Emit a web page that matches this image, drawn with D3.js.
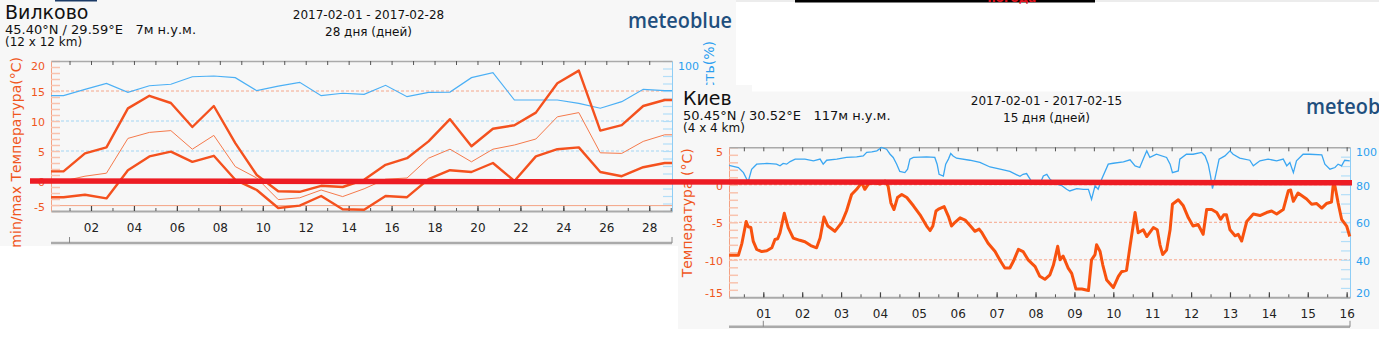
<!DOCTYPE html>
<html>
<head>
<meta charset="utf-8">
<script src="https://cdn.jsdelivr.net/npm/d3@7"></script>
<style>
body { margin: 0; background: #fff; }
svg { display: block; font-family: "DejaVu Sans", sans-serif; }
</style>
</head>
<body>
<script>
// ---- Вилково, daily values (01.02 .. 01.03) ----
var vilkDays = [1,2,3,4,5,6,7,8,9,10,11,12,13,14,15,16,17,18,19,20,21,22,23,24,25,26,27,28,29];
var vilkMax  = [1.6,4.6,5.6,12.1,14.2,13.0,9.0,12.5,6.3,1.0,-1.7,-1.8,-0.8,-1.0,0.2,2.7,3.8,6.6,10.3,5.8,8.7,9.3,11.4,16.3,18.4,8.4,9.3,12.5,13.5];
var vilkMean = [0.0,0.8,1.3,7.1,8.1,8.4,5.3,7.6,2.4,0.5,-3.1,-2.8,-1.5,-2.6,-1.3,0.3,0.5,3.8,5.3,3.2,5.3,6.0,7.0,10.7,11.4,4.7,4.6,6.6,7.7];
var vilkMin  = [-2.7,-2.3,-2.9,1.8,4.1,4.9,3.2,4.2,0.2,-1.5,-4.5,-4.1,-2.5,-4.7,-4.8,-2.5,-2.7,0.3,1.8,1.5,3.0,0.0,4.1,5.3,5.6,1.5,0.8,2.3,3.0];
var vilkHum  = [76.9,81.1,85.1,79.1,83.5,84.5,89.5,90.0,88.9,80.2,83.3,85.8,76.9,78.5,77.8,83.8,76.2,79.1,79.3,88.9,92.2,74.0,74.0,74.0,71.8,68.5,72.9,81.1,80.2];
var vilkTicks = [-5,0,5,10,15,20];
var vilkHumTicks = [100];          // the rest of that axis lies under the Kiev chart
var vilkLabelDays = [2,4,6,8,10,12,14,16,18,20,22,24,26,28];

// ---- Киев, [day, value] ----
var kievTemp = [[0.12,-9.4],[0.36,-9.4],[0.45,-7.8],[0.56,-4.9],[0.61,-5.6],[0.68,-5.7],[0.74,-7.5],[0.83,-8.6],[0.96,-8.9],[1.09,-8.8],[1.22,-8.4],[1.30,-7.3],[1.37,-7.2],[1.43,-6.4],[1.54,-3.8],[1.64,-5.7],[1.77,-7.1],[1.94,-7.4],[2.07,-7.6],[2.22,-8.1],[2.37,-8.4],[2.46,-7.1],[2.56,-4.3],[2.66,-5.5],[2.84,-6.2],[3.02,-5.0],[3.14,-3.5],[3.27,-1.3],[3.40,-0.6],[3.53,0.3],[3.61,-0.6],[3.70,0.1],[3.83,0.3],[4.00,0.1],[4.13,0.5],[4.21,-0.2],[4.28,-2.4],[4.36,-3.3],[4.45,-1.7],[4.56,-1.3],[4.69,-1.7],[4.86,-2.8],[5.03,-4.0],[5.20,-5.5],[5.29,-6.1],[5.36,-5.5],[5.44,-3.5],[5.52,-3.2],[5.65,-2.9],[5.76,-4.2],[5.84,-5.5],[5.93,-5.0],[6.06,-4.4],[6.19,-4.7],[6.36,-5.7],[6.44,-6.2],[6.55,-5.9],[6.61,-6.3],[6.78,-7.8],[6.96,-8.9],[7.09,-10.1],[7.21,-11.1],[7.34,-11.1],[7.43,-10.2],[7.56,-8.6],[7.68,-8.9],[7.81,-10.0],[7.99,-10.9],[8.11,-12.2],[8.24,-12.6],[8.37,-12.0],[8.46,-10.7],[8.57,-8.2],[8.63,-10.0],[8.71,-9.5],[8.84,-11.1],[8.93,-11.8],[9.04,-13.9],[9.19,-13.9],[9.36,-14.1],[9.44,-10.0],[9.53,-9.3],[9.57,-8.0],[9.66,-8.9],[9.73,-10.7],[9.83,-12.7],[10.00,-13.7],[10.13,-12.2],[10.21,-11.6],[10.34,-11.4],[10.43,-8.2],[10.56,-3.7],[10.64,-6.4],[10.77,-6.0],[10.86,-6.9],[11.03,-5.7],[11.13,-6.0],[11.20,-8.0],[11.27,-9.3],[11.37,-8.7],[11.46,-6.0],[11.52,-2.6],[11.67,-2.0],[11.80,-2.8],[11.93,-4.4],[12.05,-5.5],[12.18,-5.3],[12.31,-6.6],[12.40,-3.3],[12.53,-3.3],[12.66,-3.7],[12.76,-4.6],[12.84,-4.0],[12.91,-4.0],[13.00,-6.0],[13.13,-6.8],[13.21,-6.6],[13.30,-7.5],[13.43,-4.9],[13.60,-3.9],[13.77,-4.1],[13.94,-3.7],[14.07,-3.5],[14.20,-3.9],[14.37,-3.3],[14.50,-0.8],[14.56,-0.7],[14.63,-2.2],[14.75,-1.1],[14.97,-1.9],[15.10,-2.6],[15.23,-2.5],[15.36,-3.1],[15.48,-2.5],[15.61,-2.3],[15.65,-0.2],[15.70,-0.2],[15.78,-2.4],[15.87,-4.6],[16.00,-5.5],[16.08,-6.9]];
var kievHum = [[0.12,90.4],[0.36,89.2],[0.49,86.5],[0.61,81.5],[0.70,88.3],[0.83,91.0],[1.09,91.4],[1.34,91.0],[1.43,90.1],[1.51,91.4],[1.60,91.0],[1.69,92.4],[1.82,93.7],[2.07,93.7],[2.29,92.8],[2.46,93.7],[2.54,91.0],[2.63,93.1],[2.89,93.7],[3.14,94.6],[3.40,94.9],[3.57,95.4],[3.66,97.3],[3.79,97.6],[3.92,98.1],[4.04,99.9],[4.17,99.0],[4.26,96.3],[4.34,94.6],[4.43,91.0],[4.51,87.1],[4.64,86.5],[4.71,88.3],[4.77,93.7],[4.86,94.6],[5.20,94.9],[5.41,94.6],[5.47,91.0],[5.52,85.6],[5.63,84.7],[5.69,91.0],[5.76,93.7],[5.82,96.7],[5.88,95.4],[5.97,94.2],[6.31,93.1],[6.57,91.9],[6.83,89.5],[7.09,88.3],[7.34,87.1],[7.60,84.5],[7.68,85.6],[7.77,86.0],[7.86,83.0],[7.93,80.5],[8.11,80.3],[8.20,84.7],[8.29,85.6],[8.37,83.0],[8.52,80.5],[8.68,79.5],[8.80,77.6],[8.88,76.7],[9.06,78.0],[9.23,77.6],[9.36,77.6],[9.44,72.2],[9.53,79.4],[9.61,77.6],[9.70,83.0],[9.87,91.0],[10.00,91.5],[10.26,92.2],[10.43,93.3],[10.56,90.1],[10.68,89.2],[10.77,93.7],[10.86,98.1],[10.94,94.6],[11.11,96.3],[11.37,94.6],[11.46,91.0],[11.52,86.5],[11.67,87.4],[11.71,93.7],[11.88,96.3],[12.05,96.3],[12.27,97.3],[12.36,95.4],[12.44,91.0],[12.50,84.7],[12.55,78.0],[12.61,83.0],[12.72,93.7],[12.87,95.4],[13.00,98.1],[13.08,96.3],[13.25,94.2],[13.51,93.1],[13.60,90.1],[13.77,92.8],[13.98,93.7],[14.20,92.8],[14.37,93.7],[14.46,90.1],[14.54,91.9],[14.63,86.5],[14.71,92.8],[14.88,96.3],[15.05,96.3],[15.36,96.0],[15.44,91.0],[15.57,88.3],[15.70,89.2],[15.78,91.0],[15.87,90.1],[15.95,93.1],[16.08,92.8]];
var kievTicks = [-15,-10,-5,0,5];
var kievHumTicks = [20,40,60,80,100];
var kievLabelDays = [1,2,3,4,5,6,7,8,9,10,11,12,13,14,15,16];

var W = 1379, H = 360;
var svg = d3.select("body").append("svg").attr("width", W).attr("height", H);
svg.append("rect").attr("width", W).attr("height", H).attr("fill", "#fff");

var tempColor = "#f4511e", humColor = "#3ba7f2";

function pad2(d) { return (d < 10 ? "0" : "") + d; }

// one meteoblue chart, laid out in the coordinates of the first one
function drawPanel(p) {
    var g = svg.append("g").attr("transform", "translate(" + p.dx + "," + p.dy + ")");
    g.append("rect").attr("x", p.bg[0]).attr("y", p.bg[1])
        .attr("width", p.bg[2]).attr("height", p.bg[3]).attr("fill", "#f7f7f7");
    if (p.whiteTop) {
        g.append("rect").attr("x", p.whiteTop[0]).attr("y", p.whiteTop[1])
            .attr("width", p.whiteTop[2]).attr("height", p.whiteTop[3]).attr("fill", "#fff");
    }

    var left = 51, right = 672, top = 61, bottom = 211;
    var x = d3.scaleLinear().domain(p.xDomain).range([left, right]);
    var yT = d3.scaleLinear().domain(p.tDomain).range([bottom, top]);
    var yH = d3.scaleLinear().domain(p.hDomain).range([bottom, top]);

    // header
    g.append("text").attr("x", 5).attr("y", 19).attr("fill", "#111")
        .style("font-size", "19px").text(p.place);
    g.append("text").attr("x", 5).attr("y", 34).attr("fill", "#111")
        .style("font-size", "13px").style("white-space", "pre").text(p.coords);
    g.append("text").attr("x", 5).attr("y", 46).attr("fill", "#111")
        .style("font-size", "12px").text(p.cell);
    g.append("text").attr("x", 368.5).attr("y", 19).attr("text-anchor", "middle").attr("fill", "#111")
        .style("font-size", "12px").text(p.period);
    g.append("text").attr("x", 368.5).attr("y", 35.5).attr("text-anchor", "middle").attr("fill", "#111")
        .style("font-size", "12px").text(p.span);
    g.append("text").attr("x", 628).attr("y", 27.5).attr("fill", "#1f4f7e")
        .attr("textLength", 104).attr("lengthAdjust", "spacingAndGlyphs")
        .style("font-family", "'Open Sans', sans-serif").style("font-weight", 600)
        .style("font-size", "21px").text("meteoblue");

    // grid
    p.gridT.forEach(function (v) {
        g.append("line").attr("x1", left).attr("x2", right).attr("y1", yT(v)).attr("y2", yT(v))
            .attr("stroke", "#f5a68a").attr("stroke-dasharray", "3,2");
    });
    p.gridH.forEach(function (v) {
        g.append("line").attr("x1", left).attr("x2", right).attr("y1", yH(v)).attr("y2", yH(v))
            .attr("stroke", "#a3d5f3").attr("stroke-dasharray", "3,2");
    });
    p.solidT.forEach(function (v) {
        g.append("line").attr("x1", left).attr("x2", right).attr("y1", yT(v)).attr("y2", yT(v))
            .attr("stroke", "#f3a384");
    });

    // temperature axis (ticks inside)
    g.append("g").attr("transform", "translate(" + left + ",0)")
        .call(d3.axisRight(yT).tickValues(d3.range(p.tDomain[0], p.tDomain[1] + 0.01, 1))
            .tickSize(9).tickSizeOuter(0).tickFormat(""))
        .call(function (a) {
            a.select(".domain").attr("stroke", "#f4a183");
            a.selectAll(".tick line").attr("stroke", "#f8c3ae").attr("stroke-width", 1.5);
        });
    g.selectAll(".tlab").data(p.tTicks).enter().append("text")
        .attr("x", left - 6)
        .attr("y", function (d) { return Math.max(top + 4, Math.min(bottom - 5, yT(d))); })
        .attr("dy", "0.45em").attr("text-anchor", "end").attr("fill", "#f0561d")
        .style("font-size", "11px").text(function (d) { return d; });

    // humidity axis
    g.append("g").attr("transform", "translate(" + right + ",0)")
        .call(d3.axisLeft(yH).tickValues(d3.range(p.hDomain[0], p.hDomain[1] + 0.01, 5))
            .tickSize(9).tickSizeOuter(0).tickFormat(""))
        .call(function (a) {
            a.select(".domain").attr("stroke", "#8ecdf5");
            a.selectAll(".tick line").attr("stroke", "#b3def8").attr("stroke-width", 1.2);
        });
    g.selectAll(".hlab").data(p.hTicks).enter().append("text")
        .attr("x", right + 6)
        .attr("y", function (d) { return Math.max(top + 4, Math.min(bottom - 5, yH(d))); })
        .attr("dy", "0.45em").attr("fill", "#2c9ff0")
        .style("font-size", "11px").text(function (d) { return d; });

    // top border with day ticks
    g.append("g").attr("transform", "translate(0," + top + ")")
        .call(d3.axisBottom(x).tickValues(p.topTicks).tickSize(4).tickSizeOuter(0).tickFormat(""))
        .call(function (a) {
            a.select(".domain").attr("stroke", "#aaa").attr("stroke-width", 1.5);
            a.selectAll(".tick line").attr("stroke", "#555");
        });

    // bottom axis: minor and major ticks pointing up
    g.append("g").attr("transform", "translate(0," + bottom + ")")
        .call(d3.axisTop(x).tickValues(p.minorTicks).tickSize(3).tickSizeOuter(0).tickFormat(""))
        .call(function (a) {
            a.select(".domain").attr("stroke", "#aaa").attr("stroke-width", 2);
            a.selectAll(".tick line").attr("stroke", "#555");
        });
    g.append("g").attr("transform", "translate(0," + bottom + ")")
        .call(d3.axisTop(x).tickValues(p.labelDays).tickSize(5).tickSizeOuter(0).tickFormat(""))
        .call(function (a) {
            a.select(".domain").remove();
            a.selectAll(".tick line").attr("stroke", "#444").attr("stroke-width", 1.2);
        });
    g.append("g").attr("transform", "translate(0," + bottom + ")")
        .call(d3.axisBottom(x).tickValues(p.labelDays).tickSize(0).tickPadding(12).tickFormat(pad2))
        .call(function (a) {
            a.select(".domain").remove();
            a.selectAll("text").attr("fill", "#222").style("font-size", "12px")
                .style("font-family", "'DejaVu Sans', sans-serif");
        });

    // lower range bar
    g.append("line").attr("x1", left).attr("x2", right).attr("y1", p.barY).attr("y2", p.barY)
        .attr("stroke", "#aaa").attr("stroke-width", 2.5);
    [x(1), right].forEach(function (px) {
        g.append("line").attr("x1", px).attr("x2", px).attr("y1", p.barY).attr("y2", p.barY - 6)
            .attr("stroke", "#888");
    });

    // axis titles
    g.append("text").attr("transform", "translate(" + p.tTitle[0] + "," + p.tTitle[1] + ") rotate(-90)")
        .attr("text-anchor", "end").attr("dy", "0.35em").attr("fill", "#f0561d")
        .style("font-size", "14px").text(p.tTitleText);
    if (p.hTitle) {
        g.append("text").attr("transform", "translate(" + p.hTitle[0] + "," + p.hTitle[1] + ") rotate(-90)")
            .attr("text-anchor", "end").attr("dy", "0.35em").attr("fill", "#2c9ff0")
            .style("font-size", "14px").text("Относительная влажность(%)");
    }

    return { g: g, x: x, yT: yT, yH: yH };
}

// ---- left chart: Вилково ----
var vilk = drawPanel({
    dx: 0, dy: 0, bg: [0, 0, 736, 246],
    place: "Вилково", coords: "45.40°N / 29.59°E   7м н.у.м.", cell: "(12 x 12 km)",
    period: "2017-02-01 - 2017-02-28", span: "28 дня (дней)",
    xDomain: [0.137, 29.06], tDomain: [-5, 20], hDomain: [0, 100],
    tTicks: vilkTicks, hTicks: vilkHumTicks,
    gridT: [15, 0], gridH: [60, 40], solidT: [-4.1],
    topTicks: d3.range(1, 29), minorTicks: d3.range(1, 30), labelDays: vilkLabelDays,
    barY: 243, tTitle: [16, 57], tTitleText: "min/max Температура(°C)", hTitle: [709, 41]
});

function withEdges(days, vals, dom) {
    var pts = days.map(function (d, i) { return [d - 0.28, vals[i]]; });
    return [[dom[0], vals[0]]].concat(pts, [[dom[1], vals[vals.length - 1]]]);
}
var vLineT = d3.line().x(function (d) { return vilk.x(d[0]); }).y(function (d) { return vilk.yT(d[1]); });
var vLineH = d3.line().x(function (d) { return vilk.x(d[0]); }).y(function (d) { return vilk.yH(d[1]); });
var vDom = vilk.x.domain();

vilk.g.append("path").datum(withEdges(vilkDays, vilkHum, vDom))
    .attr("d", vLineH).attr("fill", "none").attr("stroke", "#4cb0f5").attr("stroke-width", 1.2);
vilk.g.append("path").datum(withEdges(vilkDays, vilkMean, vDom))
    .attr("d", vLineT).attr("fill", "none").attr("stroke", "#f57a4c").attr("stroke-width", 1);
[vilkMax, vilkMin].forEach(function (s) {
    vilk.g.append("path").datum(withEdges(vilkDays, s, vDom))
        .attr("d", vLineT).attr("fill", "none").attr("stroke", tempColor)
        .attr("stroke-width", 2.4).attr("stroke-linejoin", "round");
});

// ---- right chart: Киев ----
var kiev = drawPanel({
    dx: 678, dy: 86.3, bg: [0, -1.3, 701, 244], whiteTop: [74, -1.3, 700, 6.5],
    place: "Киев", coords: "50.45°N / 30.52°E   117м н.у.м.", cell: "(4 x 4 km)",
    period: "2017-02-01 - 2017-02-15", span: "15 дня (дней)",
    xDomain: [0.118, 16.086], tDomain: [-15, 5], hDomain: [20, 100],
    tTicks: kievTicks, hTicks: kievHumTicks,
    gridT: [0, -5, -10], gridH: [], solidT: [],
    topTicks: d3.range(0.5, 16.01, 0.5), minorTicks: d3.range(0.5, 16.01, 0.5), labelDays: kievLabelDays,
    barY: 240.5, tTitle: [9.5, 62], tTitleText: "Температура (°C)", hTitle: null
});

var kLineT = d3.line().x(function (d) { return kiev.x(d[0]); }).y(function (d) { return kiev.yT(d[1]); });
var kLineH = d3.line().x(function (d) { return kiev.x(d[0]); }).y(function (d) { return kiev.yH(d[1]); });
kiev.g.append("path").datum(kievHum).attr("d", kLineH)
    .attr("fill", "none").attr("stroke", humColor).attr("stroke-width", 1.3);
kiev.g.append("path").datum(kievTemp).attr("d", kLineT)
    .attr("fill", "none").attr("stroke", "#f8520f").attr("stroke-width", 3).attr("stroke-linejoin", "round");

// ---- page scraps along the top edge ----
svg.append("rect").attr("x", 55).attr("y", 0).attr("width", 42).attr("height", 1.5).attr("fill", "#1b3a66");
svg.append("rect").attr("x", 736).attr("y", 0).attr("width", 643).attr("height", 2).attr("fill", "#ececec");
svg.append("rect").attr("x", 795).attr("y", 0).attr("width", 300).attr("height", 2.5).attr("fill", "#000");
svg.append("text").attr("x", 1012).attr("y", 1.5).attr("text-anchor", "middle").attr("fill", "#e0101c")
    .style("font-size", "12px").style("font-weight", "bold").text("погода");

// ---- red marker line drawn over both charts ----
svg.append("line").attr("x1", 30).attr("y1", vilk.yT(0)).attr("x2", 1352).attr("y2", vilk.yT(0) + 1.8)
    .attr("stroke", "#ed1c24").attr("stroke-width", 5.5);
</script>
</body>
</html>
